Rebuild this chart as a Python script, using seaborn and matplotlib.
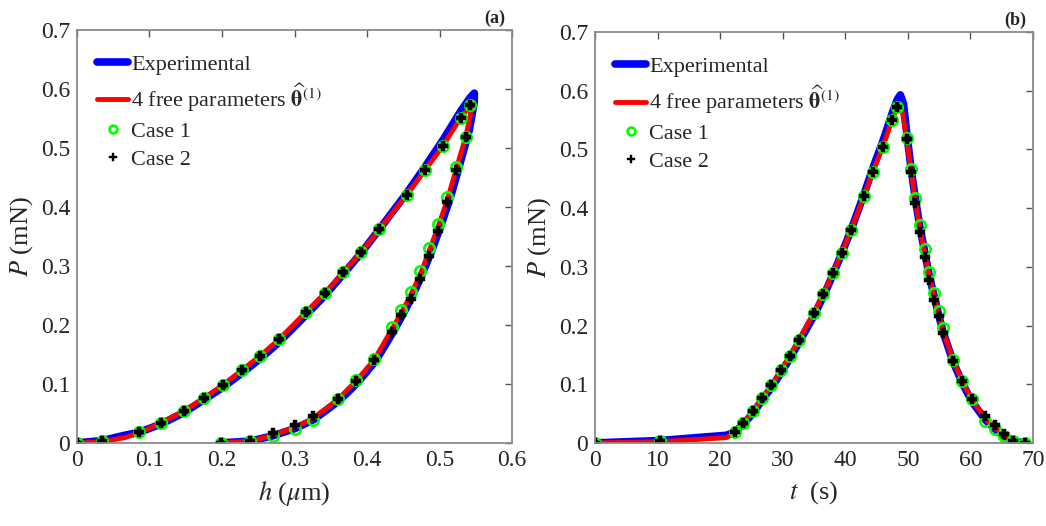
import matplotlib
matplotlib.use("Agg")
import seaborn as sns
from matplotlib import pyplot as plt

# marker points (Case 1 / Case 2), loading then unloading
h_case = [0, 0.035, 0.086, 0.116, 0.147, 0.175, 0.201, 0.228, 0.253, 0.279,
          0.316, 0.342, 0.367, 0.392, 0.417, 0.455, 0.480, 0.505, 0.529, 0.542,
          0.536, 0.523, 0.511, 0.498, 0.485, 0.473, 0.460, 0.447, 0.434, 0.410,
          0.385, 0.360, 0.325, 0.300, 0.270, 0.239, 0.198]
t_case = [0, 10.4, 22.3, 23.7, 25.3, 26.7, 28.2, 29.7, 31.1, 32.6,
          35.0, 36.5, 38.0, 39.4, 40.9, 43.0, 44.4, 46.0, 47.5, 48.3,
          49.8, 50.5, 51.2, 51.9, 52.7, 53.4, 54.2, 54.9, 55.6, 57.2,
          58.7, 60.2, 62.4, 63.9, 65.3, 66.8, 68.7]
P_case1 = [0, 0.003, 0.018, 0.034, 0.054, 0.076, 0.098, 0.124, 0.148, 0.176,
           0.222, 0.254, 0.289, 0.323, 0.362, 0.421, 0.462, 0.504, 0.551, 0.573,
           0.519, 0.467, 0.417, 0.371, 0.330, 0.291, 0.256, 0.225, 0.196, 0.142,
           0.106, 0.075, 0.038, 0.024, 0.011, 0.003, 0.0]
P_case2 = [0, 0.003, 0.018, 0.034, 0.054, 0.076, 0.098, 0.124, 0.148, 0.176,
           0.222, 0.254, 0.289, 0.323, 0.362, 0.421, 0.462, 0.504, 0.551, 0.573,
           0.518, 0.462, 0.408, 0.360, 0.316, 0.277, 0.244, 0.217, 0.188, 0.140,
           0.105, 0.074, 0.045, 0.030, 0.016, 0.003, 0.0]

# 4 free parameters fit (red)
h_fit = [0, 0.035, 0.066, 0.086, 0.116, 0.147, 0.175, 0.201, 0.228, 0.253, 0.279,
         0.316, 0.342, 0.367, 0.392, 0.417, 0.455, 0.480, 0.505, 0.529, 0.542, 0.546,
         0.544, 0.536, 0.523, 0.511, 0.498, 0.485, 0.473, 0.460, 0.447, 0.434, 0.410,
         0.385, 0.360, 0.325, 0.300, 0.270, 0.239, 0.198]
t_fit = [0, 10.4, 21.0, 22.3, 23.7, 25.3, 26.7, 28.2, 29.7, 31.1, 32.6,
         35.0, 36.5, 38.0, 39.4, 40.9, 43.0, 44.4, 46.0, 47.5, 48.3, 48.7,
         49.1, 49.8, 50.5, 51.2, 51.9, 52.7, 53.4, 54.2, 54.9, 55.6, 57.2,
         58.7, 60.2, 62.4, 63.9, 65.3, 66.8, 68.7]
P_fit = [0, 0.002, 0.009, 0.017, 0.034, 0.054, 0.076, 0.098, 0.124, 0.148, 0.176,
         0.222, 0.254, 0.289, 0.323, 0.362, 0.421, 0.462, 0.504, 0.551, 0.571, 0.578,
         0.565, 0.518, 0.464, 0.413, 0.366, 0.323, 0.284, 0.250, 0.220, 0.192, 0.141,
         0.105, 0.074, 0.041, 0.026, 0.013, 0.003, 0.0]

# experimental (blue)
h_exp = [0, 0.035, 0.066, 0.086, 0.116, 0.147, 0.175, 0.201, 0.228, 0.253, 0.279,
         0.316, 0.342, 0.367, 0.392, 0.417, 0.455, 0.480, 0.505, 0.529, 0.542, 0.548,
         0.548, 0.541, 0.527, 0.515, 0.502, 0.489, 0.476, 0.463, 0.450, 0.437, 0.412,
         0.387, 0.361, 0.326, 0.300, 0.270, 0.239, 0.198]
t_exp = [0, 10.4, 21.0, 22.3, 23.7, 25.3, 26.7, 28.2, 29.7, 31.1, 32.6,
         35.0, 36.5, 38.0, 39.4, 40.9, 43.0, 44.4, 46.0, 47.5, 48.3, 48.8,
         49.3, 49.8, 50.5, 51.2, 51.9, 52.7, 53.4, 54.2, 54.9, 55.6, 57.2,
         58.7, 60.2, 62.4, 63.9, 65.3, 66.8, 68.7]
P_exp = [0, 0.004, 0.013, 0.018, 0.032, 0.051, 0.073, 0.094, 0.119, 0.143, 0.171,
         0.217, 0.250, 0.286, 0.322, 0.362, 0.424, 0.468, 0.514, 0.562, 0.585, 0.593,
         0.578, 0.530, 0.468, 0.416, 0.369, 0.325, 0.286, 0.250, 0.219, 0.190, 0.139,
         0.102, 0.071, 0.039, 0.024, 0.012, 0.003, 0.0]

x_ticks_h = [0, 0.1, 0.2, 0.3, 0.4, 0.5, 0.6]
x_ticks_t = [0, 10, 20, 30, 40, 50, 60, 70]
y_ticks = [0, 0.1, 0.2, 0.3, 0.4, 0.5, 0.6, 0.7]

sns.set_theme(style="white")
plt.rcParams["font.family"] = ["Liberation Serif", "DejaVu Serif"]
plt.rcParams["mathtext.fontset"] = "stix"

fig = plt.figure(figsize=(10.46, 5.26), dpi=100)
ax1 = fig.add_axes([0.0736, 0.158, 0.4159, 0.785])
ax2 = fig.add_axes([0.5688, 0.158, 0.4188, 0.781])

for ax, xs_exp, xs_fit, xs_case, xt, xlab, tag in [
        (ax1, h_exp, h_fit, h_case, x_ticks_h, r"$h$ ($\mu$m)", "(a)"),
        (ax2, t_exp, t_fit, t_case, x_ticks_t, r"$t$  (s)", "(b)")]:
    sns.lineplot(x=xs_exp, y=P_exp, sort=False, estimator=None, ax=ax,
                 color="#0000ff", lw=5.5, solid_capstyle="round",
                 solid_joinstyle="round", label="Experimental")
    sns.lineplot(x=xs_fit, y=P_fit, sort=False, estimator=None, ax=ax,
                 color="#ff0000", lw=3.5, solid_capstyle="round",
                 solid_joinstyle="round",
                 label=r"4 free parameters $\widehat{\mathbf{\theta}}^{(1)}$")
    sns.lineplot(x=xs_case, y=P_case1, sort=False, estimator=None, ax=ax,
                 color="#00ff00", linestyle="none", marker="o", ms=7.5,
                 mfc="none", mec="#00ff00", mew=1.9, label="Case 1")
    sns.lineplot(x=xs_case, y=P_case2, sort=False, estimator=None, ax=ax,
                 color="black", linestyle="none", marker="P", ms=7,
                 mfc="black", mec="black", mew=0.3, label="Case 2")

    ax.set_xlim(xt[0], xt[-1])
    ax.set_ylim(0, 0.7)
    ax.set_xticks(xt)
    ax.set_xticklabels([("%g" % v) for v in xt])
    ax.set_yticks(y_ticks)
    ax.set_yticklabels([("%g" % v) for v in y_ticks])
    ax.tick_params(direction="in", top=True, right=True, length=5, width=1,
                   color="#555555", labelcolor="#262626", labelsize=17, pad=5)
    for s in ax.spines.values():
        s.set_color("#8a8a8a")
        s.set_linewidth(1.3)
    ax.set_xlabel(xlab, fontsize=19, color="#262626", labelpad=6)
    ax.set_ylabel(r"$P$ (mN)", fontsize=19, color="#262626", labelpad=4)
    ax.text(0.985, 1.008, tag, transform=ax.transAxes, ha="right", va="bottom",
            fontsize=13, fontweight="bold", color="#262626")
    ax.legend(loc="upper left", bbox_to_anchor=(0.0, 0.99), frameon=False,
              fontsize=16, handlelength=1.4, handletextpad=0.15,
              labelspacing=0.33, borderaxespad=0.5, markerscale=0.75)

fig.savefig("out.png", dpi=100)
